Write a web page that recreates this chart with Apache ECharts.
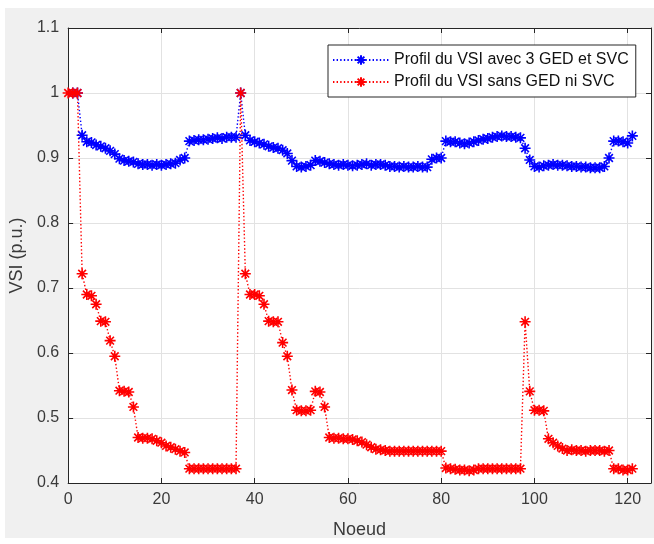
<!DOCTYPE html>
<html>
<head>
<meta charset="utf-8">
<script src="https://cdn.jsdelivr.net/npm/echarts@6/dist/echarts.min.js"></script>
<style>
html,body{margin:0;padding:0;background:#ffffff;}
#bg{position:absolute;left:5px;top:8px;width:649px;height:530px;background:#f0f0f0;}
#chart{position:absolute;left:0;top:0;width:654px;height:544px;}
</style>
</head>
<body>
<div id="bg"></div>
<div id="chart"></div>
<script>
// Nodes (x values)
const nodesWith = [];
for (let i = 1; i <= 121; i++) nodesWith.push(i);
const nodesWithout = [];
for (let i = 0; i <= 121; i++) nodesWithout.push(i);

// VSI with 3 GED and SVC (nodes 1..121)
const vsiWith = [
  1.000, 1.000, 0.935, 0.925, 0.924, 0.920, 0.918, 0.915, 0.911, 0.906,
  0.899, 0.896, 0.895, 0.894, 0.891, 0.890, 0.890, 0.889, 0.890, 0.889,
  0.890, 0.891, 0.892, 0.897, 0.900, 0.926, 0.927, 0.928, 0.928, 0.929,
  0.930, 0.931, 0.930, 0.932, 0.932, 0.932, 1.000, 0.935, 0.927, 0.925,
  0.923, 0.921, 0.918, 0.916, 0.915, 0.912, 0.907, 0.896, 0.887, 0.886,
  0.887, 0.889, 0.896, 0.895, 0.893, 0.891, 0.890, 0.889, 0.890, 0.889,
  0.888, 0.889, 0.890, 0.891, 0.889, 0.890, 0.890, 0.889, 0.887, 0.887,
  0.886, 0.887, 0.886, 0.886, 0.887, 0.886, 0.886, 0.898, 0.900, 0.900,
  0.926, 0.925, 0.925, 0.923, 0.922, 0.923, 0.925, 0.927, 0.929, 0.930,
  0.932, 0.933, 0.934, 0.933, 0.933, 0.932, 0.931, 0.915, 0.897, 0.887,
  0.886, 0.888, 0.889, 0.890, 0.889, 0.889, 0.888, 0.887, 0.887, 0.886,
  0.886, 0.885, 0.885, 0.885, 0.887, 0.900, 0.926, 0.926, 0.925, 0.923,
  0.934
];

// VSI without GED nor SVC (nodes 0..121)
const vsiWithout = [
  1.000, 1.000, 1.000, 0.722, 0.690, 0.688, 0.675, 0.649, 0.648, 0.619,
  0.595, 0.542, 0.541, 0.540, 0.517, 0.470, 0.469, 0.469, 0.468, 0.465,
  0.462, 0.457, 0.455, 0.452, 0.449, 0.447, 0.422, 0.422, 0.422, 0.422,
  0.422, 0.422, 0.422, 0.422, 0.422, 0.422, 0.422, 1.000, 0.722, 0.690,
  0.690, 0.688, 0.675, 0.649, 0.648, 0.648, 0.616, 0.595, 0.543, 0.512,
  0.511, 0.511, 0.512, 0.541, 0.540, 0.517, 0.470, 0.469, 0.469, 0.468,
  0.468, 0.467, 0.465, 0.463, 0.459, 0.455, 0.452, 0.451, 0.450, 0.449,
  0.449, 0.449, 0.449, 0.449, 0.449, 0.449, 0.449, 0.449, 0.449, 0.449,
  0.449, 0.423, 0.422, 0.421, 0.420, 0.420, 0.419, 0.420, 0.422, 0.422,
  0.422, 0.422, 0.422, 0.422, 0.422, 0.422, 0.422, 0.422, 0.648, 0.541,
  0.512, 0.512, 0.511, 0.468, 0.462, 0.457, 0.453, 0.450, 0.451, 0.450,
  0.450, 0.449, 0.450, 0.450, 0.450, 0.449, 0.450, 0.422, 0.422, 0.420,
  0.420, 0.422
];

const xTicks = [0, 20, 40, 60, 80, 100, 120];
const yTicks = [0.4, 0.5, 0.6, 0.7, 0.8, 0.9, 1, 1.1];
const seriesNames = ['Profil du VSI avec 3 GED et SVC', 'Profil du VSI sans GED ni SVC'];

const asterisk = 'path://M10 0L10 20M0 10L20 10M3 3L17 17M3 17L17 3';
const FONT = "'Liberation Sans', Arial, sans-serif";
const axisColor = '#262626';
const labelColor = '#3a3a3a';

function pairs(xs, ys) { return xs.map((x, i) => [x, ys[i]]); }

const chart = echarts.init(document.getElementById('chart'), null, {renderer: 'canvas'});

const baseX = {
  type: 'value', min: 0, max: 125, interval: 20,
  axisLine: {show: true, onZero: false, lineStyle: {color: axisColor, width: 1}},
  axisTick: {show: true, inside: true, length: 5, lineStyle: {color: axisColor}},
};
const baseY = {
  type: 'value', min: 0.4, max: 1.1, interval: 0.1,
  axisLine: {show: true, onZero: false, lineStyle: {color: axisColor, width: 1}},
  axisTick: {show: true, inside: true, length: 5, lineStyle: {color: axisColor}},
};

chart.setOption({
  animation: false,
  backgroundColor: 'transparent',
  textStyle: {fontFamily: FONT},
  grid: {left: 68, right: 2, top: 28, bottom: 57, show: true, backgroundColor: '#ffffff', borderWidth: 0},
  legend: {
    data: seriesNames,
    orient: 'vertical',
    left: 328, top: 45,
    backgroundColor: '#ffffff',
    borderColor: axisColor, borderWidth: 1, borderRadius: 0,
    padding: [7, 7, 7, 4],
    itemWidth: 56, itemHeight: 12, itemGap: 6,
    textStyle: {fontFamily: FONT, fontSize: 16, color: '#111', lineHeight: 16}
  },
  xAxis: [
    Object.assign({}, baseX, {
      position: 'bottom',
      name: 'Noeud', nameLocation: 'middle', nameGap: 38,
      nameTextStyle: {fontFamily: FONT, fontSize: 18, color: labelColor},
      axisLabel: {show: true, margin: 9, fontFamily: FONT, fontSize: 16, color: labelColor,
        formatter: v => (xTicks.indexOf(v) >= 0 ? String(v) : '')},
      splitLine: {show: true, lineStyle: {color: '#e2e2e2', width: 1}}
    }),
    Object.assign({}, baseX, {
      position: 'top',
      axisLabel: {show: false},
      splitLine: {show: false}
    })
  ],
  yAxis: [
    Object.assign({}, baseY, {
      position: 'left',
      name: 'VSI (p.u.)', nameLocation: 'middle', nameGap: 38,
      nameTextStyle: {fontFamily: FONT, fontSize: 18, color: labelColor},
      axisLabel: {show: true, margin: 9, fontFamily: FONT, fontSize: 16, color: labelColor,
        formatter: v => {
          const r = Math.round(v * 10) / 10;
          return yTicks.some(t => Math.abs(t - r) < 1e-9) ? String(r) : '';
        }},
      splitLine: {show: true, lineStyle: {color: '#e2e2e2', width: 1}}
    }),
    Object.assign({}, baseY, {
      position: 'right',
      axisLabel: {show: false},
      splitLine: {show: false}
    })
  ],
  series: [
    {
      name: seriesNames[0],
      type: 'line',
      xAxisIndex: 0, yAxisIndex: 0,
      data: pairs(nodesWith, vsiWith),
      color: '#0000ff',
      symbol: asterisk, symbolSize: 11, showAllSymbol: true,
      itemStyle: {color: 'rgba(0,0,0,0)', borderColor: '#0000ff', borderWidth: 1.6},
      lineStyle: {color: '#0000ff', width: 1.4, type: [1.4, 2.2]},
      emphasis: {disabled: true}
    },
    {
      name: seriesNames[1],
      type: 'line',
      xAxisIndex: 0, yAxisIndex: 0,
      data: pairs(nodesWithout, vsiWithout),
      color: '#ff0000',
      symbol: asterisk, symbolSize: 11, showAllSymbol: true,
      itemStyle: {color: 'rgba(0,0,0,0)', borderColor: '#ff0000', borderWidth: 1.6},
      lineStyle: {color: '#ff0000', width: 1.4, type: [1.4, 2.2]},
      emphasis: {disabled: true}
    }
  ]
});
</script>
</body>
</html>
